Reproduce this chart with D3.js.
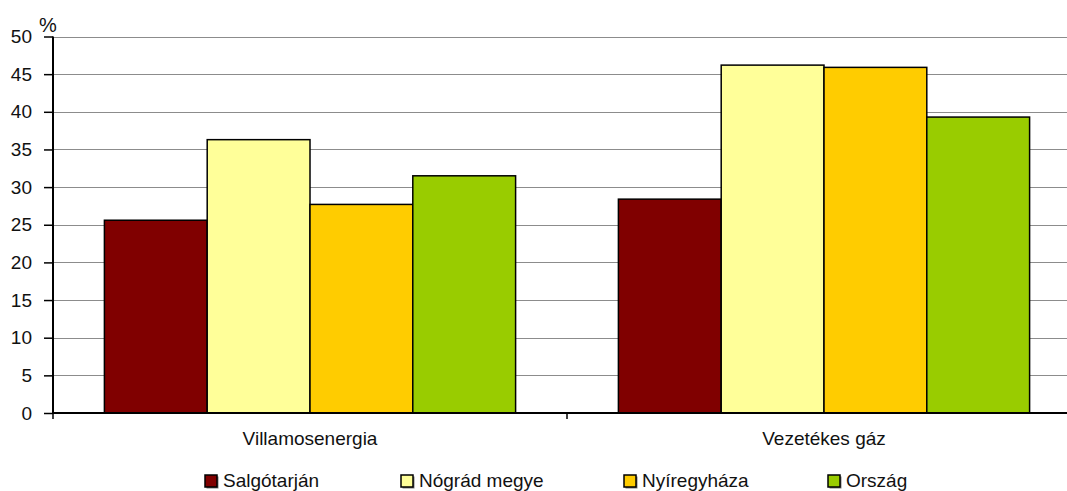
<!DOCTYPE html>
<html><head><meta charset="utf-8">
<script src="https://cdn.jsdelivr.net/npm/d3@7"></script>
<style>body{margin:0;background:#fff}svg{display:block;font-family:"Liberation Sans",Arial,sans-serif}</style>
</head><body>
<svg id="c" width="1067" height="491"></svg>
<script>
const categories = ["Villamosenergia", "Vezetékes gáz"];
const seriesNames = ["Salgótarján", "Nógrád megye", "Nyíregyháza", "Ország"];
const seriesColors = ["#800000", "#ffff99", "#ffcc00", "#99cc00"];
const salgotarjan = [25.6, 28.4];
const nograd = [36.3, 46.2];
const nyiregyhaza = [27.7, 45.9];
const orszag = [31.5, 39.3];
const yTicks = [0, 5, 10, 15, 20, 25, 30, 35, 40, 45, 50];
const seriesValues = [salgotarjan, nograd, nyiregyhaza, orszag];

const svg = d3.select("#c");
const x0 = d3.scaleBand().domain(categories).range([53, 1081]).paddingInner(0).paddingOuter(0);
const x1 = d3.scaleBand().domain(seriesNames).range([0, x0.bandwidth()]).paddingInner(0).paddingOuter(0.5);
const y = d3.scaleLinear().domain([0, 50]).range([413, 36.5]);

// gridlines
svg.append("g").selectAll("line").data(yTicks.filter(d => d > 0)).join("line")
  .attr("x1", 53).attr("x2", 1081)
  .attr("y1", d => Math.round(y(d)) + 0.5).attr("y2", d => Math.round(y(d)) + 0.5)
  .attr("stroke", "#8c8c8c").attr("stroke-width", 1.2);

// bars
const g = svg.append("g");
categories.forEach((c, ci) => {
  seriesNames.forEach((s, si) => {
    const v = seriesValues[si][ci];
    g.append("rect")
      .attr("x", x0(c) + x1(s)).attr("y", y(v))
      .attr("width", x1.bandwidth()).attr("height", y(0) - y(v))
      .attr("fill", seriesColors[si]).attr("stroke", "#000").attr("stroke-width", 1.5);
  });
});

// y axis
const yAxis = d3.axisLeft(y).tickValues(yTicks).tickSize(9).tickPadding(12);
const ya = svg.append("g").attr("transform", "translate(53,0)").call(yAxis);
ya.select(".domain").attr("stroke", "#000").attr("stroke-width", 2).attr("d", `M0,${y(50)}V${y(0)}`);
ya.selectAll(".tick line").attr("stroke", "#000").attr("stroke-width", 1.5);
ya.selectAll(".tick text").attr("font-size", 19).attr("fill", "#111").attr("font-family", "Liberation Sans, Arial, sans-serif");

// x axis
const xa = svg.append("g").attr("transform", `translate(0,${y(0)})`);
xa.append("line").attr("x1", 53).attr("x2", 1081).attr("y1", 0).attr("y2", 0).attr("stroke", "#000").attr("stroke-width", 2);
const boundaries = [x0(categories[0]), x0(categories[1])];
xa.selectAll("line.t").data(boundaries).join("line").attr("class", "t")
  .attr("x1", d => d).attr("x2", d => d).attr("y1", 0).attr("y2", 6).attr("stroke", "#000").attr("stroke-width", 1.5);
xa.selectAll("text").data(categories).join("text")
  .attr("x", d => x0(d) + x0.bandwidth() / 2).attr("y", 32)
  .attr("text-anchor", "middle").attr("font-size", 19).attr("fill", "#111").text(d => d);

// % label
svg.append("text").attr("x", 39).attr("y", 32).attr("font-size", 20).attr("fill", "#111").text("%");

// legend
const legendX = [205, 401, 624, 828];
const lg = svg.append("g");
seriesNames.forEach((s, i) => {
  lg.append("rect").attr("x", legendX[i] + 1.5).attr("y", 476.5).attr("width", 12).attr("height", 12).attr("fill", "#000").attr("opacity", 0.5);
  lg.append("rect").attr("x", legendX[i]).attr("y", 475).attr("width", 12).attr("height", 12)
    .attr("fill", seriesColors[i]).attr("stroke", "#000").attr("stroke-width", 1.5);
  lg.append("text").attr("x", legendX[i] + 18).attr("y", 487).attr("font-size", 19).attr("fill", "#111").text(s);
});
</script>
</body></html>
